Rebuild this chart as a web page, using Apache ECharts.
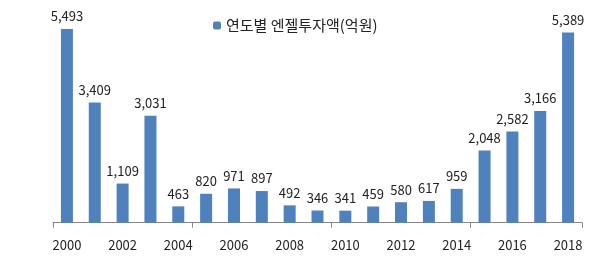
<!DOCTYPE html>
<html><head><meta charset="utf-8">
<script src="https://cdn.jsdelivr.net/npm/echarts@6/dist/echarts.min.js"></script>
<style>html,body{margin:0;padding:0;background:#fff}#c{width:593px;height:265px}</style>
</head><body><div id="c"></div>
<script>
const years = ['2000','2001','2002','2003','2004','2005','2006','2007','2008','2009','2010','2011','2012','2013','2014','2015','2016','2017','2018'];
const values = [5493,3409,1109,3031,463,820,971,897,492,346,341,459,580,617,959,2048,2582,3166,5389];
const seriesName = '연도별 엔젤투자액(억원)';
const chart = echarts.init(document.getElementById('c'));
chart.setOption({
  animation:false,
  textStyle:{fontFamily:'"Noto Sans CJK KR", sans-serif'},
  legend:{data:[seriesName],left:208,top:13,itemWidth:8,itemHeight:8,itemGap:4,
    textStyle:{fontSize:15,color:'#222',fontFamily:'"Noto Sans CJK KR", sans-serif'}},
  grid:{left:53,right:11,top:11,bottom:42.3},
  xAxis:{type:'category',data:years,boundaryGap:true,
    axisLine:{lineStyle:{color:'#868686',width:1}},
    axisTick:{show:true,interval:4,length:5,lineStyle:{color:'#868686',width:1}},
    axisLabel:{interval:1,margin:16,fontSize:13,color:'#222',fontFamily:'"Noto Sans CJK KR", sans-serif'}},
  yAxis:{type:'value',min:0,max:6000,show:false,splitLine:{show:false}},
  series:[{name:seriesName,type:'bar',data:values,barWidth:12,
    itemStyle:{color:'#4f81bd'},
    label:{show:true,position:'top',distance:6,fontSize:13,color:'#222',
      formatter:p=>p.value.toLocaleString('en-US')}}]
});
</script></body></html>
